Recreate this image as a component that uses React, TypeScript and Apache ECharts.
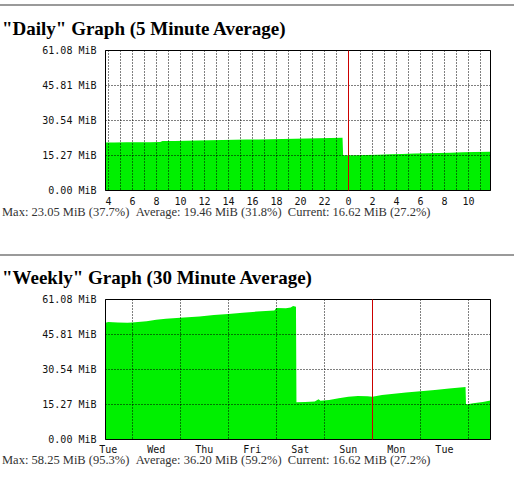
import React, { useEffect, useRef } from "react";
import * as echarts from "echarts";

// Y axis ticks (MiB)
const yTicks = [0, 15.27, 30.54, 45.81, 61.08];

// Daily graph: x in hours (24 = midnight)
const dailyRange = [3.75, 35.83];
const dailyHourGrid = [4, 5, 6, 7, 8, 9, 10, 11, 12, 13, 14, 15, 16, 17, 18, 19, 20, 21, 22, 23, 24, 25, 26, 27, 28, 29, 30, 31, 32, 33, 34, 35];
const dailyLabelHours = [4, 6, 8, 10, 12, 14, 16, 18, 20, 22, 24, 26, 28, 30, 32, 34];
const dailyMidnight = [24];
const dailyData: [number, number][] = [
  [3.75, 20.9], [4.5, 20.9], [5.5, 21.0], [6.5, 21.1], [7.5, 21.1], [8.3, 21.2], [8.5, 21.6],
  [9.5, 21.6], [10.5, 21.7], [11.5, 21.8], [12.5, 21.9], [13.5, 22.0], [14.5, 22.1],
  [15.5, 22.2], [16.5, 22.3], [17.5, 22.4], [18.5, 22.5], [19.5, 22.6], [20.5, 22.7],
  [21.5, 22.8], [22.5, 22.9], [23.5, 23.05], [23.55, 15.4], [24.5, 15.4], [25.5, 15.5],
  [26.5, 15.6], [27.5, 15.8], [28.5, 15.9], [29.5, 16.1], [30.5, 16.2], [31.5, 16.4],
  [32.5, 16.5], [33.5, 16.7], [34.5, 16.8], [35.83, 16.9],
];
const dailyStats = ["Max: 23.05 MiB (37.7%)", "Average: 19.46 MiB (31.8%)", "Current: 16.62 MiB (27.2%)"];

// Weekly graph: x in days (0 = Tuesday 00:00 of the earlier week)
const weeklyRange = [0.444, 8.46];
const weeklyDayGrid = [1, 2, 3, 4, 5, 6, 7, 8];
const weeklyLabelPos = [0.5, 1.5, 2.5, 3.5, 4.5, 5.5, 6.5, 7.5];
const weeklyDayNames = ["Tue", "Wed", "Thu", "Fri", "Sat", "Sun", "Mon", "Tue"];
const weeklyWeekStart = [6];
const weeklyData: [number, number][] = [
  [0.444, 50.9], [0.5, 51.3], [0.7, 51.0], [0.9, 50.9], [1.0, 51.0], [1.3, 51.6], [1.5, 52.2],
  [1.7, 52.7], [2.0, 53.1], [2.4, 53.7], [2.7, 54.3], [3.0, 54.8], [3.3, 55.3], [3.6, 55.8],
  [3.96, 56.3], [4.0, 57.4], [4.2, 57.3], [4.3, 57.6], [4.35, 58.25], [4.41, 57.9],
  [4.42, 16.2], [4.6, 16.4], [4.8, 16.6], [4.88, 17.6], [4.92, 16.9], [5.1, 17.2],
  [5.3, 18.0], [5.5, 18.7], [5.7, 19.0], [5.9, 18.9], [6.0, 18.7], [6.2, 19.4], [6.4, 19.9],
  [6.7, 20.5], [7.0, 21.0], [7.3, 21.6], [7.6, 22.3], [7.94, 22.9], [7.95, 15.3],
  [8.1, 15.8], [8.3, 16.4], [8.46, 17.0],
];
const weeklyStats = ["Max: 58.25 MiB (95.3%)", "Average: 36.20 MiB (59.2%)", "Current: 16.62 MiB (27.2%)"];

const titles = ['"Daily" Graph (5 Minute Average)', '"Weekly" Graph (30 Minute Average)'];

const GREEN = "#00f000";
const RED = "#cc0000";
const MONO = "'DejaVu Sans Mono', monospace";
const SERIF = "'Liberation Serif', 'Times New Roman', serif";
const dotted = { color: "#000", width: 1, type: [1, 2] as number[] };

function yAxis(gridIndex: number) {
  return {
    type: "value",
    gridIndex,
    min: yTicks[0],
    max: yTicks[yTicks.length - 1],
    interval: yTicks[1],
    axisLine: { show: false },
    axisTick: { show: false },
    splitLine: { show: true, lineStyle: dotted },
    axisLabel: {
      formatter: (v: number) => v.toFixed(2) + " MiB",
      fontFamily: MONO,
      fontSize: 10,
      lineHeight: 10,
      color: "#111",
      margin: 9,
    },
  };
}

function xLabel(extra: object) {
  return {
    fontFamily: MONO,
    fontSize: 10,
    lineHeight: 9,
    color: "#111",
    margin: 6,
    ...extra,
  };
}

export default function App() {
  const ref = useRef<HTMLDivElement>(null);
  useEffect(() => {
    if (!ref.current) return;
    const chart = echarts.init(ref.current, undefined, { renderer: "svg" });
    const stat = (parts: string[]) => parts.join("\u00a0\u00a0");
    const titleStyle = { fontFamily: SERIF, fontWeight: "bold", fontSize: 19, fill: "#000", verticalAlign: "middle" };
    const statStyle = { fontFamily: SERIF, fontSize: 12.5, lineHeight: 12, fill: "#333", verticalAlign: "middle" };
    chart.setOption({
      animation: false,
      grid: [
        { left: 105.5, top: 50.5, width: 385, height: 140, show: true, borderColor: "#000", borderWidth: 1, backgroundColor: "transparent" },
        { left: 105.5, top: 299.5, width: 385, height: 140, show: true, borderColor: "#000", borderWidth: 1, backgroundColor: "transparent" },
      ],
      xAxis: [
        {
          type: "value",
          gridIndex: 0,
          min: dailyRange[0],
          max: dailyRange[1],
          axisLine: { show: false },
          axisTick: { show: false, customValues: dailyHourGrid },
          splitLine: { show: true, lineStyle: dotted },
          axisLabel: xLabel({
            customValues: dailyLabelHours,
            formatter: (v: number) => String(Math.round(v) % 24),
          }),
        },
        {
          type: "value",
          gridIndex: 1,
          min: weeklyRange[0],
          max: weeklyRange[1],
          axisLine: { show: false },
          axisTick: { show: false, customValues: weeklyDayGrid },
          splitLine: { show: true, lineStyle: dotted },
          axisLabel: xLabel({
            customValues: weeklyLabelPos,
            formatter: (v: number) => weeklyDayNames[Math.floor(v)],
            margin: 5,
          }),
        },
      ],
      yAxis: [yAxis(0), yAxis(1)],
      series: [
        {
          type: "line",
          xAxisIndex: 0,
          yAxisIndex: 0,
          data: dailyData,
          symbol: "none",
          silent: true,
          z: -1,
          lineStyle: { width: 0 },
          areaStyle: { color: GREEN, opacity: 1 },
          markLine: {
            silent: true,
            symbol: "none",
            label: { show: false },
            lineStyle: { color: RED, width: 1, type: "solid" },
            data: dailyMidnight.map((h) => ({ xAxis: h })),
          },
        },
        {
          type: "line",
          xAxisIndex: 1,
          yAxisIndex: 1,
          data: weeklyData,
          symbol: "none",
          silent: true,
          z: -1,
          lineStyle: { width: 0 },
          areaStyle: { color: GREEN, opacity: 1 },
          markLine: {
            silent: true,
            symbol: "none",
            label: { show: false },
            lineStyle: { color: RED, width: 1, type: "solid" },
            data: weeklyWeekStart.map((d) => ({ xAxis: d })),
          },
        },
      ],
      graphic: [
        { type: "rect", shape: { x: 0, y: 4, width: 514, height: 2 }, style: { fill: "#9a9a9a" } },
        { type: "rect", shape: { x: 0, y: 254, width: 514, height: 2 }, style: { fill: "#9a9a9a" } },
        { type: "text", x: 2, y: 28, style: { text: titles[0], ...titleStyle } },
        { type: "text", x: 2, y: 277, style: { text: titles[1], ...titleStyle } },
        { type: "text", x: 2, y: 212, style: { text: stat(dailyStats), ...statStyle } },
        { type: "text", x: 2, y: 460, style: { text: stat(weeklyStats), ...statStyle } },
      ],
    });
    return () => chart.dispose();
  }, []);
  return <div ref={ref} style={{ position: "absolute", left: 0, top: 0, width: 514, height: 492 }} />;
}
